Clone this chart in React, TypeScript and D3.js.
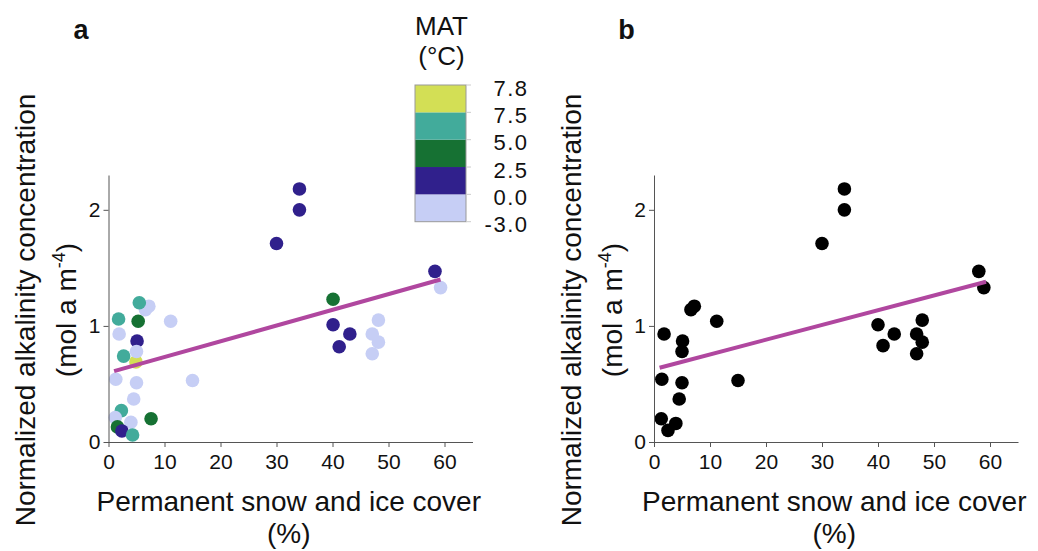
import * as d3 from "d3";
import { useEffect, useRef } from "react";

// panel a: snow/ice cover (%), alkalinity, MAT (°C, estimated from colour class)
const coverA = [7.2, 6.6, 1.8, 5.3, 11.1, 1.9, 5.1, 4.9, 5.0, 2.7, 5.5, 1.3, 5.0, 15.0, 4.5, 2.3, 1.2, 4.0, 7.6, 1.6, 2.4, 4.3, 30.0, 34.1, 34.1, 58.3, 59.3, 40.1, 40.1, 43.1, 41.2, 48.2, 47.1, 48.2, 47.1];
const alkA = [1.17, 1.14, 1.06, 1.04, 1.04, 0.93, 0.87, 0.69, 0.78, 0.74, 1.2, 0.54, 0.51, 0.53, 0.37, 0.27, 0.21, 0.17, 0.2, 0.13, 0.095, 0.06, 1.71, 2.18, 2.0, 1.47, 1.33, 1.23, 1.01, 0.93, 0.82, 1.05, 0.93, 0.86, 0.76];
const matA = [-1, -1, 6, 4, -1, -1, 1, 7.6, -1, 6, 6, -1, -1, -1, -1, 6, -1, -1, 4, 4, 1, 6, 1, 1, 1, 1, -1, 4, 1, 1, 1, -1, -1, -1, -1];

// panel b: site means
const coverB = [1.8, 1.4, 1.3, 2.5, 3.9, 4.5, 5.0, 5.1, 5.0, 6.6, 7.2, 11.2, 15.0, 30.0, 34.0, 34.0, 40.0, 40.9, 42.9, 46.9, 47.9, 47.9, 46.9, 58.0, 58.9];
const alkB = [0.93, 0.54, 0.2, 0.1, 0.16, 0.37, 0.51, 0.87, 0.78, 1.14, 1.17, 1.04, 0.53, 1.71, 2.18, 2.0, 1.01, 0.83, 0.93, 0.93, 1.05, 0.86, 0.76, 1.47, 1.33];

// regression lines (endpoints)
const fitX = [1, 59.3];
const fitA = [0.61, 1.4];
const fitB = [0.64, 1.38];

const matBreaks = [-3.0, 0.0, 2.5, 5.0, 7.5, 7.8];
const matLabels = ["-3.0", "0.0", "2.5", "5.0", "7.5", "7.8"];
const matColors = ["#c6cef5", "#30208c", "#167133", "#42ab9b", "#d3df55"];

const xTicks = [0, 10, 20, 30, 40, 50, 60];
const yTicks = [0, 1, 2];

const FONT = "'Liberation Sans', Arial, Helvetica, sans-serif";

export default function App() {
  const svgRef = useRef<SVGSVGElement | null>(null);

  useEffect(() => {
    if (!svgRef.current) return;
    const svg = d3.select(svgRef.current);
    svg.selectAll("*").remove();

    const matColor = d3
      .scaleThreshold<number, string>()
      .domain(matBreaks.slice(1, 5))
      .range(matColors);

    const y = d3.scaleLinear().domain([0, 2.3]).range([442, 175]);

    const drawPanel = (
      left: number,
      letter: string,
      xs: number[],
      ys: number[],
      fill: (i: number) => string,
      fitY: number[]
    ) => {
      const x = d3
        .scaleLinear()
        .domain([-0.6, 65])
        .range([left - 0.6 * 5.6, left + 65 * 5.6]);

      const g = svg.append("g");

      // points
      g.selectAll("circle")
        .data(xs.map((v, i) => i))
        .enter()
        .append("circle")
        .attr("cx", (i) => x(xs[i]))
        .attr("cy", (i) => y(ys[i]))
        .attr("r", 6.8)
        .attr("fill", (i) => fill(i));

      // fit line
      g.append("path")
        .datum(fitX.map((v, i) => [v, fitY[i]] as [number, number]))
        .attr("fill", "none")
        .attr("stroke", "#b0479f")
        .attr("stroke-width", 4)
        .attr("d", d3.line<[number, number]>().x((d) => x(d[0])).y((d) => y(d[1])));

      // axes
      const xAxis = g
        .append("g")
        .attr("transform", `translate(0,${y(0)})`)
        .call(d3.axisBottom(x).tickValues(xTicks).tickSize(5).tickSizeOuter(0).tickPadding(7));
      const yAxis = g
        .append("g")
        .attr("transform", `translate(${x(0)},0)`)
        .call(d3.axisLeft(y).tickValues(yTicks).tickSize(5).tickSizeOuter(0).tickPadding(3).tickFormat(d3.format("d")));
      [xAxis, yAxis].forEach((a) => {
        a.selectAll("path, line").attr("stroke", "#555");
        a.selectAll("text").attr("font-size", 21).attr("font-family", FONT).attr("fill", "#111");
      });

      // x label
      const cx = (x(-0.6) + x(65)) / 2;
      g.append("text")
        .attr("x", cx)
        .attr("y", 511)
        .attr("text-anchor", "middle")
        .attr("font-size", 28)
        .attr("font-family", FONT)
        .attr("fill", "#111")
        .text("Permanent snow and ice cover");
      g.append("text")
        .attr("x", cx)
        .attr("y", 543)
        .attr("text-anchor", "middle")
        .attr("font-size", 28)
        .attr("font-family", FONT)
        .attr("fill", "#111")
        .text("(%)");

      // y label
      const cy = 310;
      g.append("text")
        .attr("transform", `translate(${left - 73.5},${cy}) rotate(-90)`)
        .attr("text-anchor", "middle")
        .attr("font-size", 28)
        .attr("font-family", FONT)
        .attr("fill", "#111")
        .text("Normalized alkalinity concentration");
      const l2 = g
        .append("text")
        .attr("transform", `translate(${left - 32.5},${cy}) rotate(-90)`)
        .attr("text-anchor", "middle")
        .attr("font-size", 28)
        .attr("font-family", FONT)
        .attr("fill", "#111");
      l2.append("tspan").text("(mol a m");
      l2.append("tspan").attr("font-size", 18).attr("dy", -11).text("-4");
      l2.append("tspan").attr("dy", 11).text(")");

      // panel letter
      g.append("text")
        .attr("x", left - 27.5)
        .attr("y", 39)
        .attr("text-anchor", "middle")
        .attr("font-size", 27)
        .attr("font-weight", "bold")
        .attr("font-family", FONT)
        .attr("fill", "#111")
        .text(letter);
    };

    drawPanel(108.5, "a", coverA, alkA, (i) => matColor(matA[i]), fitA);
    drawPanel(654, "b", coverB, alkB, () => "#000", fitB);

    // MAT colour bar
    const lg = svg.append("g");
    const ly = d3.scaleLinear().domain([0, 5]).range([221.7, 85]);
    lg.append("text")
      .attr("x", 441.5)
      .attr("y", 35)
      .attr("text-anchor", "middle")
      .attr("font-size", 26)
      .attr("font-family", FONT)
      .attr("fill", "#111")
      .text("MAT");
    lg.append("text")
      .attr("x", 441.5)
      .attr("y", 65)
      .attr("text-anchor", "middle")
      .attr("font-size", 26)
      .attr("font-family", FONT)
      .attr("fill", "#111")
      .text("(°C)");
    lg.selectAll("rect.band")
      .data(matColors)
      .enter()
      .append("rect")
      .attr("class", "band")
      .attr("x", 415)
      .attr("width", 51)
      .attr("y", (d, i) => ly(i + 1))
      .attr("height", (d, i) => ly(i) - ly(i + 1))
      .attr("fill", (d) => d);
    lg.append("rect")
      .attr("x", 415)
      .attr("y", ly(5))
      .attr("width", 51)
      .attr("height", ly(0) - ly(5))
      .attr("fill", "none")
      .attr("stroke", "#999");
    lg.selectAll("line.tk")
      .data(matLabels)
      .enter()
      .append("line")
      .attr("class", "tk")
      .attr("x1", 466)
      .attr("x2", 471)
      .attr("y1", (d, i) => ly(i))
      .attr("y2", (d, i) => ly(i))
      .attr("stroke", "#ccc");
    lg.selectAll("text.lab")
      .data(matLabels)
      .enter()
      .append("text")
      .attr("class", "lab")
      .attr("x", 528.5)
      .attr("y", (d, i) => ly(i) + 3)
      .attr("dy", "0.35em")
      .attr("text-anchor", "end")
      .attr("font-size", 22)
      .attr("letter-spacing", 1.5)
      .attr("font-family", FONT)
      .attr("fill", "#111")
      .text((d) => d);
  }, []);

  return (
    <svg
      ref={svgRef}
      width={1038}
      height={551}
      viewBox="0 0 1038 551"
      style={{ position: "absolute", left: 0, top: 0, background: "#fff" }}
    />
  );
}
